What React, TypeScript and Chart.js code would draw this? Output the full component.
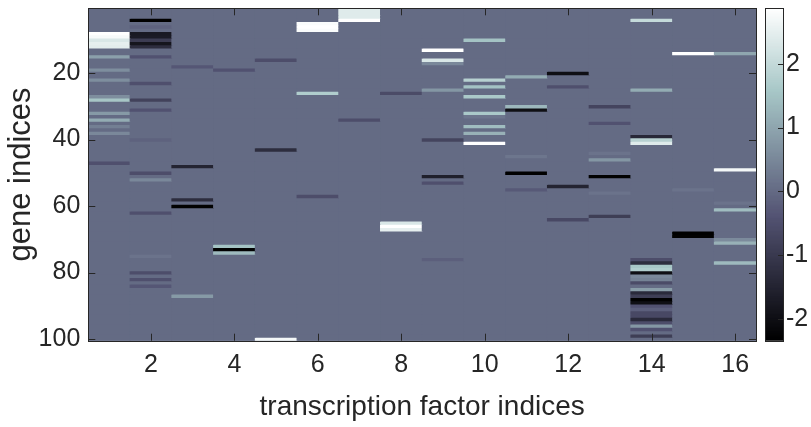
import React, { useEffect, useRef } from "react";
import { Chart, registerables } from "chart.js";

Chart.register(...registerables);

const FONT_FAMILY = "'Liberation Sans', Arial, Helvetica, sans-serif";
const INK = "#262626";

const WIDTH = 811;
const HEIGHT = 427;
const PLOT_LEFT = 88.3;
const PLOT_RIGHT = 756;
const PLOT_TOP = 8.3;
const PLOT_BOTTOM = 340.7;
const CB_LEFT = 765;
const CB_RIGHT = 783;
const CB_CANVAS_LEFT = 757;
const CB_CANVAS_WIDTH = WIDTH - CB_CANVAS_LEFT;

const N_GENES = 100;
const TF_INDICES = [1, 2, 3, 4, 5, 6, 7, 8, 9, 10, 11, 12, 13, 14, 15, 16];
const X_TICKS = [2, 4, 6, 8, 10, 12, 14, 16];
const Y_TICKS = [20, 40, 60, 80, 100];
const CB_TICKS = [-2, -1, 0, 1, 2];
const C_MIN = -2.34;
const C_MAX = 2.87;
const CB_LEVELS = 256;

// Non-zero regulatory weights per transcription factor: [gene index, weight]
const tf01: [number, number][] = [[8, 2.87], [9, 2.75], [10, 2.3], [11, 2.5], [12, 2.45], [15, 0.9], [19, 0.6], [22, 0.6], [27, 0.6], [28, 1.55], [32, 0.8], [34, 1.1], [36, 0.35], [38, 0.5], [47, -0.5]];
const tf02: [number, number][] = [[4, -2.34], [6, -0.15], [8, -1.75], [9, -1.7], [10, -0.95], [11, -1.85], [12, -1.3], [15, -0.45], [23, -0.5], [28, -0.8], [31, -0.45], [40, -0.15], [50, -0.55], [52, 0.5], [62, -0.5], [75, 0.15], [80, -0.55], [82, -0.5], [84, -0.35]];
const tf03: [number, number][] = [[18, -0.35], [48, -1.5], [58, -1.3], [60, -2.3], [87, 0.8]];
const tf04: [number, number][] = [[19, -0.45], [72, 1.5], [73, -2.3], [74, 1.35]];
const tf05: [number, number][] = [[16, -0.55], [43, -1.3], [100, 2.7]];
const tf06: [number, number][] = [[5, 2.8], [6, 2.87], [7, 2.8], [26, 1.7], [57, -0.55]];
const tf07: [number, number][] = [[1, 2.4], [2, 2.4], [3, 2.4], [4, 2.85], [34, -0.55]];
const tf08: [number, number][] = [[26, -0.6], [65, 2.3], [66, 2.87], [67, 2.5]];
const tf09: [number, number][] = [[13, 2.87], [16, 2.3], [17, 0.5], [25, 0.75], [40, -0.75], [51, -1.6], [53, -0.5], [76, -0.2]];
const tf10: [number, number][] = [[10, 1.5], [22, 1.8], [24, 1.5], [27, 1.6], [32, 1.6], [33, 0.2], [36, 1.4], [38, 1.2], [41, 2.87]];
const tf11: [number, number][] = [[21, 1.1], [30, 1.3], [31, -2.0], [45, 0.2], [50, -2.34], [55, -0.3]];
const tf12: [number, number][] = [[20, -2.0], [24, -0.5], [54, -1.5], [64, -0.65]];
const tf13: [number, number][] = [[30, -0.75], [35, -0.45], [44, 0.15], [46, 0.75], [51, -2.3], [56, 0.15], [63, -0.9]];
const tf14: [number, number][] = [[4, 2.0], [25, 1.1], [39, -1.4], [40, 1.8], [41, 2.4], [76, -0.55], [77, -1.3], [78, 1.55], [79, 1.7], [80, -2.0], [81, 0.5], [82, 0.4], [83, -0.6], [85, 0.85], [86, -1.35], [87, -0.9], [88, -2.34], [89, -2.0], [90, -0.45], [91, -0.2], [92, -0.65], [93, -0.65], [94, -1.35], [95, -0.55], [96, 0.75], [97, -0.45], [99, -0.9]];
const tf15: [number, number][] = [[14, 2.87], [55, 0.15], [68, -2.34], [69, -2.3]];
const tf16: [number, number][] = [[14, 1.0], [49, 2.7], [59, 0.15], [61, 1.4], [70, 0.55], [71, 1.2], [77, 1.35]];

const TF_COLUMNS = [tf01, tf02, tf03, tf04, tf05, tf06, tf07, tf08, tf09, tf10, tf11, tf12, tf13, tf14, tf15, tf16];

// Full gene x TF weight matrix (unlisted entries are zero)
const weights: number[][] = TF_COLUMNS.map((col) => {
  const arr = new Array(N_GENES).fill(0);
  col.forEach(([g, v]) => {
    arr[g - 1] = v;
  });
  return arr;
});

// MATLAB-style "bone" colormap: (7*gray + fliplr(hot)) / 8
function boneColor(v: number): string {
  let t = (v - C_MIN) / (C_MAX - C_MIN);
  t = Math.min(1, Math.max(0, t));
  const hr = Math.min(1, t / 0.375);
  const hg = Math.min(1, Math.max(0, (t - 0.375) / 0.375));
  const hb = Math.min(1, Math.max(0, (t - 0.75) / 0.25));
  const r = Math.round(((7 * t + hb) / 8) * 255);
  const g = Math.round(((7 * t + hg) / 8) * 255);
  const b = Math.round(((7 * t + hr) / 8) * 255);
  return `rgb(${r},${g},${b})`;
}

type FrameOpts = {
  xTicks?: number[];
  yTicks?: number[];
  tickLen: number;
  bothSides: boolean;
  underlay?: string;
};

// Axes box with inward tick marks, plus an optional fill beneath the cells
function makeFramePlugin(id: string, o: FrameOpts) {
  return {
    id,
    beforeDatasetsDraw(chart: any) {
      if (!o.underlay) return;
      const { ctx, chartArea: a } = chart;
      ctx.save();
      ctx.fillStyle = o.underlay;
      ctx.fillRect(a.left, a.top, a.right - a.left, a.bottom - a.top);
      ctx.restore();
    },
    afterDraw(chart: any) {
      const { ctx, chartArea: a, scales } = chart;
      ctx.save();
      ctx.strokeStyle = INK;
      ctx.lineWidth = 1;
      ctx.beginPath();
      if (o.xTicks) {
        const sx = scales.x;
        o.xTicks.forEach((v) => {
          const px = Math.round(sx.getPixelForValue(v)) + 0.5;
          ctx.moveTo(px, a.bottom);
          ctx.lineTo(px, a.bottom - o.tickLen);
          if (o.bothSides) {
            ctx.moveTo(px, a.top);
            ctx.lineTo(px, a.top + o.tickLen);
          }
        });
      }
      if (o.yTicks) {
        const sy = scales.y;
        o.yTicks.forEach((v) => {
          const py = Math.round(sy.getPixelForValue(v)) + 0.5;
          ctx.moveTo(a.right, py);
          ctx.lineTo(a.right - o.tickLen, py);
          if (o.bothSides) {
            ctx.moveTo(a.left, py);
            ctx.lineTo(a.left + o.tickLen, py);
          }
        });
      }
      ctx.stroke();
      ctx.strokeRect(
        Math.round(a.left) + 0.5,
        Math.round(a.top) + 0.5,
        Math.round(a.right) - Math.round(a.left),
        Math.round(a.bottom) - Math.round(a.top)
      );
      ctx.restore();
    },
  };
}

const noScalePadding = (s: any) => {
  s.paddingTop = 0;
  s.paddingBottom = 0;
  s.paddingLeft = 0;
  s.paddingRight = 0;
};

function HeatmapChart() {
  const ref = useRef<HTMLCanvasElement | null>(null);
  useEffect(() => {
    if (!ref.current) return;
    const datasets = Array.from({ length: N_GENES }, (_, i) => i + 1).map((g) => ({
      data: TF_INDICES.map((tf) => ({ x: tf, y: [g - 0.5, g + 0.5] })),
      backgroundColor: TF_INDICES.map((tf) => boneColor(weights[tf - 1][g - 1])),
      borderWidth: 0,
      inflateAmount: 0.4,
      barPercentage: 1,
      categoryPercentage: 1,
      grouped: false,
    }));
    const chart = new Chart(ref.current, {
      type: "bar",
      data: { datasets } as any,
      options: {
        responsive: false,
        animation: false,
        devicePixelRatio: 1,
        events: [],
        layout: { padding: { left: 0, top: PLOT_TOP, right: WIDTH - PLOT_RIGHT, bottom: 0 } },
        plugins: { legend: { display: false }, tooltip: { enabled: false } },
        scales: {
          x: {
            type: "linear",
            min: 0.5,
            max: TF_INDICES.length + 0.5,
            offset: false,
            grid: { display: false, drawTicks: false },
            border: { display: false },
            afterBuildTicks: (s: any) => {
              s.ticks = X_TICKS.map((v) => ({ value: v }));
            },
            afterFit: (s: any) => {
              s.height = HEIGHT - PLOT_BOTTOM;
              noScalePadding(s);
            },
            ticks: {
              color: INK,
              font: { family: FONT_FAMILY, size: 25 },
              padding: 9,
              maxRotation: 0,
              autoSkip: false,
              callback: (v: any) => String(v),
            },
            title: {
              display: true,
              text: "transcription factor indices",
              color: INK,
              font: { family: FONT_FAMILY, size: 28 },
              padding: { top: 0, bottom: 3 },
            },
          },
          y: {
            type: "linear",
            reverse: true,
            min: 0.5,
            max: N_GENES + 0.5,
            grid: { display: false, drawTicks: false },
            border: { display: false },
            afterBuildTicks: (s: any) => {
              s.ticks = Y_TICKS.map((v) => ({ value: v }));
            },
            afterFit: (s: any) => {
              s.width = PLOT_LEFT;
              noScalePadding(s);
            },
            ticks: {
              color: INK,
              font: { family: FONT_FAMILY, size: 25 },
              padding: 8,
              autoSkip: false,
              callback: (v: any) => String(v),
            },
            title: {
              display: true,
              text: "gene indices",
              color: INK,
              font: { family: FONT_FAMILY, size: 31 },
              padding: { top: 3, bottom: 0 },
            },
          },
        },
      } as any,
      plugins: [
        makeFramePlugin("heatmapFrame", {
          xTicks: X_TICKS,
          yTicks: Y_TICKS,
          tickLen: 7,
          bothSides: true,
          underlay: boneColor(0),
        }),
      ],
    });
    return () => chart.destroy();
  }, []);
  return (
    <canvas
      ref={ref}
      width={WIDTH}
      height={HEIGHT}
      style={{ position: "absolute", left: 0, top: 0, width: WIDTH, height: HEIGHT }}
    />
  );
}

function ColorbarChart() {
  const ref = useRef<HTMLCanvasElement | null>(null);
  useEffect(() => {
    if (!ref.current) return;
    const step = (C_MAX - C_MIN) / CB_LEVELS;
    const datasets = Array.from({ length: CB_LEVELS }, (_, i) => {
      const lo = C_MIN + i * step;
      const hi = lo + step;
      return {
        data: [[lo, hi]],
        backgroundColor: boneColor((lo + hi) / 2),
        borderWidth: 0,
        inflateAmount: 0.4,
        barPercentage: 1,
        categoryPercentage: 1,
        grouped: false,
      };
    });
    const chart = new Chart(ref.current, {
      type: "bar",
      data: { labels: [""], datasets } as any,
      options: {
        responsive: false,
        animation: false,
        devicePixelRatio: 1,
        events: [],
        layout: {
          padding: { left: CB_LEFT - CB_CANVAS_LEFT, top: PLOT_TOP, right: 0, bottom: HEIGHT - PLOT_BOTTOM },
        },
        plugins: { legend: { display: false }, tooltip: { enabled: false } },
        scales: {
          x: { display: false },
          y: {
            type: "linear",
            position: "right",
            min: C_MIN,
            max: C_MAX,
            grid: { display: false, drawTicks: false },
            border: { display: false },
            afterBuildTicks: (s: any) => {
              s.ticks = CB_TICKS.map((v) => ({ value: v }));
            },
            afterFit: (s: any) => {
              s.width = CB_CANVAS_WIDTH - (CB_RIGHT - CB_CANVAS_LEFT);
              noScalePadding(s);
            },
            ticks: {
              color: INK,
              font: { family: FONT_FAMILY, size: 25 },
              padding: 3,
              autoSkip: false,
              callback: (v: any) => String(v),
            },
          },
        },
      } as any,
      plugins: [makeFramePlugin("colorbarFrame", { yTicks: CB_TICKS, tickLen: 5, bothSides: false })],
    });
    return () => chart.destroy();
  }, []);
  return (
    <canvas
      ref={ref}
      width={CB_CANVAS_WIDTH}
      height={HEIGHT}
      style={{ position: "absolute", left: CB_CANVAS_LEFT, top: 0, width: CB_CANVAS_WIDTH, height: HEIGHT }}
    />
  );
}

export default function App() {
  return (
    <div
      style={{
        position: "fixed",
        left: 0,
        top: 0,
        width: WIDTH,
        height: HEIGHT,
        background: "#ffffff",
        overflow: "hidden",
      }}
    >
      <HeatmapChart />
      <ColorbarChart />
    </div>
  );
}
